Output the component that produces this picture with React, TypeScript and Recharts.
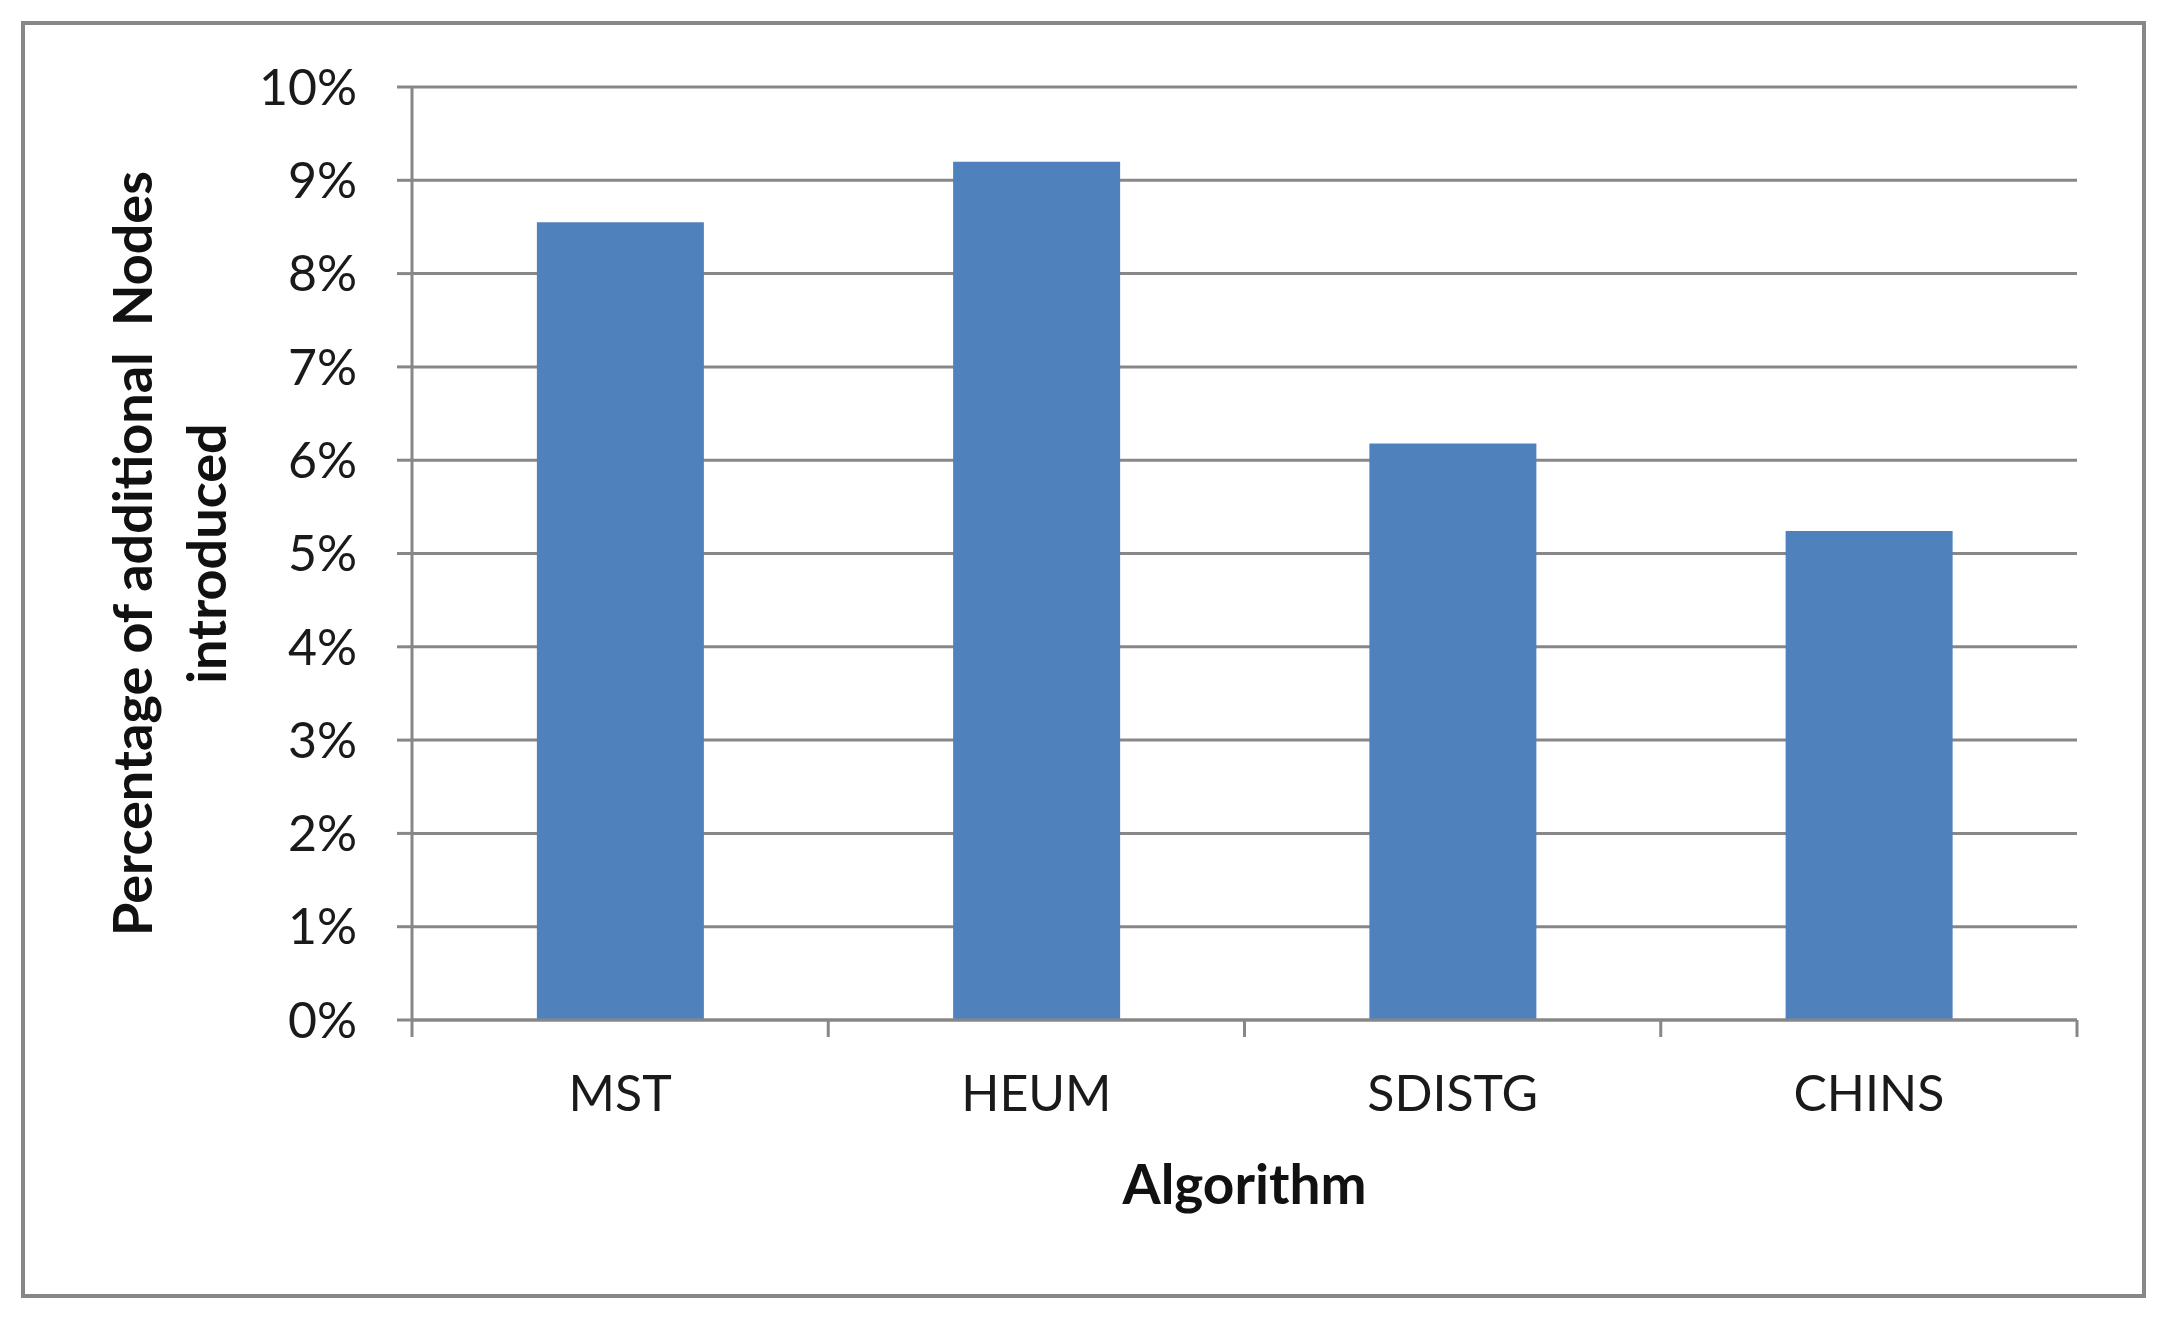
import { BarChart, Bar, XAxis, YAxis, CartesianGrid } from "recharts";

const categories = ["MST", "HEUM", "SDISTG", "CHINS"];
const percentValues = [8.55, 9.2, 6.18, 5.24];
const yTicks = [0, 1, 2, 3, 4, 5, 6, 7, 8, 9, 10];
const yLabelLines = ["Percentage of additional  Nodes", "introduced"];
const xLabel = "Algorithm";

const data = categories.map((name, i) => ({ name, value: percentValues[i] }));

const GRAY = "#878787";
const FONT = "Lato, 'Open Sans', sans-serif";
const X_TICK_MARGIN = 55;
const X_TICK_LEN = 17;

// category label + tick marks on the category boundaries (Excel style)
const CatTick = (props: any) => {
  const { x, y, payload, index, visibleTicksCount, width } = props;
  const half = payload?.offset ? payload.offset : width / visibleTicksCount / 2;
  const axisY = y - X_TICK_MARGIN;
  const isLast = index === visibleTicksCount - 1;
  return (
    <g>
      <line x1={x - half} x2={x - half} y1={axisY} y2={axisY + X_TICK_LEN} stroke={GRAY} strokeWidth={3} />
      {isLast && (
        <line x1={x + half} x2={x + half} y1={axisY} y2={axisY + X_TICK_LEN} stroke={GRAY} strokeWidth={3} />
      )}
      <text x={x} y={y} dy="0.71em" textAnchor="middle" fontFamily={FONT} fontSize={50} fill="#1a1a1a">
        {payload.value}
      </text>
    </g>
  );
};

const YTitle = ({ viewBox }: any) => {
  const cy = viewBox.y + viewBox.height / 2;
  const baseX = [viewBox.x + 152, viewBox.x + 226];
  return (
    <g>
      {yLabelLines.map((line, i) => (
        <text
          key={i}
          x={baseX[i]}
          y={cy}
          transform={`rotate(-90, ${baseX[i]}, ${cy})`}
          textAnchor="middle"
          fontFamily={FONT}
          fontWeight={700}
          fontSize={54}
          fill="#111"
          style={{ whiteSpace: "pre" }}
        >
          {line}
        </text>
      ))}
    </g>
  );
};

const App = () => (
  <div style={{ position: "absolute", left: 0, top: 0, width: 2168, height: 1323, background: "#fff" }}>
    <div
      style={{
        position: "absolute",
        left: 21,
        top: 21,
        width: 2117,
        height: 1269,
        border: `4px solid ${GRAY}`,
      }}
    />
    <div style={{ position: "absolute", left: 0, top: 0 }}>
      <BarChart
        width={2168}
        height={1323}
        data={data}
        margin={{ top: 87, right: 91, left: 0, bottom: 103 }}
        barCategoryGap="30%"
      >
        <CartesianGrid vertical={false} stroke={GRAY} strokeWidth={3} />
        <XAxis
          dataKey="name"
          height={200}
          interval={0}
          axisLine={{ stroke: GRAY, strokeWidth: 3 }}
          tickLine={false}
          tickSize={0}
          tickMargin={X_TICK_MARGIN}
          tick={<CatTick />}
          label={{
            value: xLabel,
            position: "insideTop",
            offset: 145,
            fontFamily: FONT,
            fontWeight: 700,
            fontSize: 55,
            fill: "#111",
          }}
        />
        <YAxis
          width={412}
          domain={[0, 10]}
          ticks={yTicks}
          interval={0}
          tickFormatter={(v: number) => `${v}%`}
          tickSize={15}
          tickMargin={40}
          tick={{ fontFamily: FONT, fontSize: 50, fill: "#1a1a1a" }}
          tickLine={{ stroke: GRAY, strokeWidth: 3 }}
          axisLine={{ stroke: GRAY, strokeWidth: 3 }}
          label={<YTitle />}
        />
        <Bar dataKey="value" fill="#4F81BD" isAnimationActive={false} />
      </BarChart>
    </div>
  </div>
);

export default App;
